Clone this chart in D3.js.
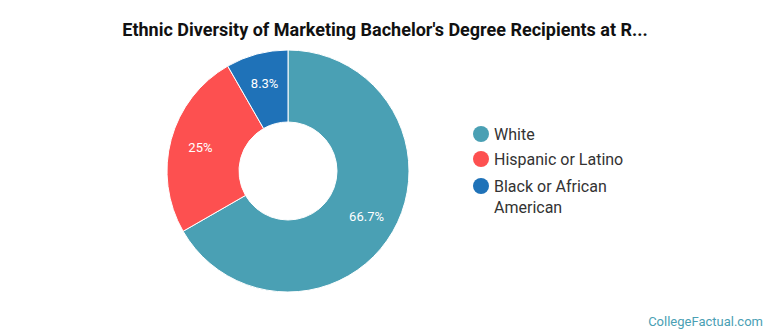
<!DOCTYPE html>
<html lang="en">
<head>
  <meta charset="UTF-8">
  <title>Ethnic Diversity Donut</title>
  <script src="https://d3js.org/d3.v7.min.js"></script>
  <style>
    body {
      margin: 0;
      background: #fff;
      font-family: Roboto, "Open Sans", Arial, sans-serif;
    }
  </style>
</head>
<body>
  <svg width="770" height="335"></svg>

  <script>
    const categories = ["White", "Hispanic or Latino", "Black or African American"];
    const values = [66.7, 25, 8.3];
    const labels = ["66.7%", "25%", "8.3%"];
    const colors = ["#4aa0b4", "#fd5050", "#1f72b8"];

    const svg = d3.select("svg");
    const cx = 288, cy = 171, outerR = 121, innerR = 49;

    // Title
    svg.append("text")
      .attr("x", 385)
      .attr("y", 36)
      .attr("text-anchor", "middle")
      .attr("font-size", 18)
      .attr("font-weight", "bold")
      .attr("fill", "#111")
      .text("Ethnic Diversity of Marketing Bachelor's Degree Recipients at R...");

    const pie = d3.pie().sort(null).value(d => d);
    const arc = d3.arc().innerRadius(innerR).outerRadius(outerR);
    const labelArc = d3.arc().innerRadius(outerR * 0.75).outerRadius(outerR * 0.75);

    const g = svg.append("g").attr("transform", `translate(${cx},${cy})`);
    const arcs = pie(values);

    g.selectAll("path")
      .data(arcs)
      .enter()
      .append("path")
      .attr("d", arc)
      .attr("fill", (d, i) => colors[i])
      .attr("stroke", "#fff")
      .attr("stroke-width", 1);

    g.selectAll(".lbl")
      .data(arcs)
      .enter()
      .append("text")
      .attr("class", "lbl")
      .attr("transform", d => `translate(${labelArc.centroid(d)})`)
      .attr("dy", "0.35em")
      .attr("text-anchor", "middle")
      .attr("font-size", 13)
      .attr("fill", "#fff")
      .text((d, i) => labels[i]);

    // Legend
    const legend = svg.append("g").attr("transform", "translate(481,134)");
    const legendLines = [["White"], ["Hispanic or Latino"], ["Black or African", "American"]];
    const rowY = [0, 25, 52];
    categories.forEach((c, i) => {
      legend.append("circle")
        .attr("cx", 0)
        .attr("cy", rowY[i])
        .attr("r", 8)
        .attr("fill", colors[i]);
      const t = legend.append("text")
        .attr("x", 13)
        .attr("y", rowY[i] + 6)
        .attr("font-size", 16)
        .attr("fill", "#333");
      legendLines[i].forEach((line, j) => {
        t.append("tspan")
          .attr("x", 13)
          .attr("dy", j === 0 ? 0 : 21)
          .text(line);
      });
    });

    // Footer
    svg.append("text")
      .attr("x", 763)
      .attr("y", 326)
      .attr("text-anchor", "end")
      .attr("font-size", 13)
      .attr("fill", "#4aa0b4")
      .text("CollegeFactual.com");
  </script>
</body>
</html>
